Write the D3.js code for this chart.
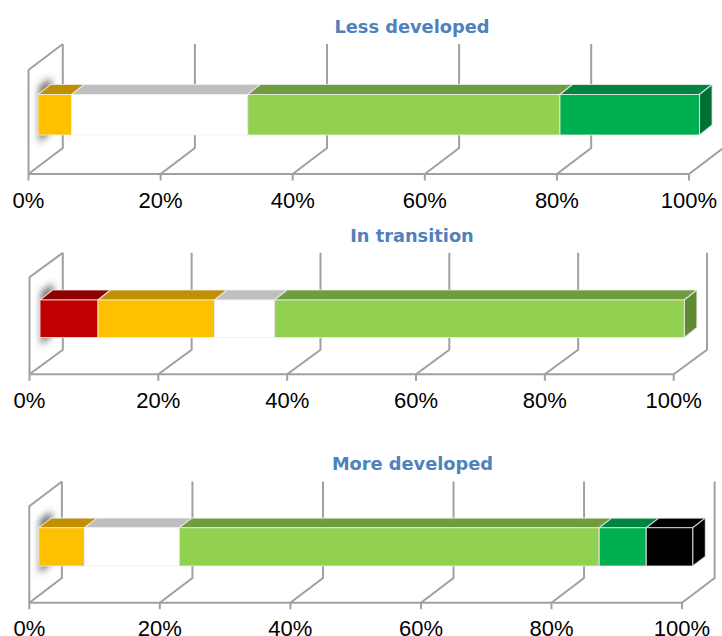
<!DOCTYPE html>
<html><head><meta charset="utf-8">
<script src="https://cdnjs.cloudflare.com/ajax/libs/d3/7.8.5/d3.min.js"></script>
<style>html,body{margin:0;padding:0;background:#fff;overflow:hidden}svg{display:block}</style>
</head><body>
<svg id="c" width="722" height="636"></svg>
<script>
const panelTitles = ["Less developed", "In transition", "More developed"];
const segmentKeys = ["red", "amber", "white", "lightGreen", "darkGreen", "black"];
const lessDeveloped = [0, 5.1, 26.6, 47.2, 21.1, 0];
const inTransition = [9.0, 18.1, 9.3, 63.6, 0, 0];
const moreDeveloped = [0, 7.0, 14.5, 64.2, 7.2, 7.1];
const panelValues = [lessDeveloped, inTransition, moreDeveloped];
const tickValues = [0, 20, 40, 60, 80, 100];

const palette = {
  red:        {front:"#C00000", top:"#900000", side:"#7a0000"},
  amber:      {front:"#FFC000", top:"#C09000", side:"#a87e00"},
  white:      {front:"#FFFFFF", top:"#BFBFBF", side:"#a8a8a8"},
  lightGreen: {front:"#92D050", top:"#6F9C3C", side:"#618A34"},
  darkGreen:  {front:"#00B050", top:"#008540", side:"#007033"},
  black:      {front:"#000000", top:"#000000", side:"#000000"}
};

const layouts = [
  {x0:28.5, x1:689, floor:174, dx:34.3, dy:26, wallH:104, barX0:38, barX1:699.5, barTop:94.5, barBot:135, bdx:12.6, bdy:10, titleX:412, titleY:33},
  {x0:29.5, x1:673.7, floor:374.3, dx:33.3, dy:24.5, wallH:97, barX0:40, barX1:684.3, barTop:300, barBot:337.5, bdx:12.6, bdy:10, titleX:412, titleY:242},
  {x0:29.3, x1:682, floor:602.7, dx:32.6, dy:24.7, wallH:96.5, barX0:38.7, barX1:692.7, barTop:527.7, barBot:566, bdx:12.6, bdy:9.6, titleX:412.5, titleY:470}
];

const svg = d3.select("#c");
const defs = svg.append("defs");
defs.append("filter").attr("id","blur").attr("x","-100%").attr("y","-50%").attr("width","300%").attr("height","200%")
  .append("feGaussianBlur").attr("stdDeviation",3.6);

const GRID = "#a0a0a0";
const GW = 2;
const pts = a => a.map(p => p.join(",")).join(" ");

layouts.forEach((L, i) => {
  const g = svg.append("g");
  const xAxisScale = d3.scaleLinear().domain([0,100]).range([L.x0, L.x1]);
  const barScale = d3.scaleLinear().domain([0,100]).range([L.barX0, L.barX1]);

  // left wall and back gridlines
  const wallTop = L.floor - L.dy - L.wallH;
  g.append("polyline").attr("fill","none").attr("stroke",GRID).attr("stroke-width",GW)
    .attr("points", pts([[L.x0,L.floor],[L.x0,wallTop+L.dy],[L.x0+L.dx,wallTop]]));
  g.selectAll("polyline.grid").data(tickValues).join("polyline").attr("class","grid")
    .attr("fill","none").attr("stroke",GRID).attr("stroke-width",GW)
    .attr("points", d => { const x = xAxisScale(d);
      return pts([[x,L.floor],[x+L.dx,L.floor-L.dy],[x+L.dx,wallTop]]); });

  // axis along the floor
  const axis = d3.axisBottom(xAxisScale).tickValues(tickValues).tickFormat(d => d+"%")
    .tickSize(6.5).tickPadding(11.5);
  const ag = g.append("g").attr("transform",`translate(0,${L.floor})`).call(axis);
  ag.select(".domain").attr("stroke",GRID).attr("stroke-width",GW).attr("d",`M${L.x0},0H${L.x1}`);
  ag.selectAll(".tick").attr("transform", d => `translate(${xAxisScale(d)},0)`);
  ag.selectAll(".tick line").attr("stroke",GRID).attr("stroke-width",GW);
  ag.selectAll(".tick text").attr("fill","#000").style("font-family","'Liberation Sans',Arial,sans-serif").style("font-size","22px");

  // soft shadow on the wall
  g.append("polygon").attr("fill","#606060").attr("opacity",0.9).attr("filter","url(#blur)")
    .attr("points", pts([[L.barX0+1,L.barTop-8],[L.barX0+13,L.barTop-17],[L.barX0+13,L.barBot-4],[L.barX0+1,L.barBot+8]]));

  // bar
  const row = {}; segmentKeys.forEach((k,j) => row[k] = panelValues[i][j]);
  const series = d3.stack().keys(segmentKeys)([row]).filter(s => s[0][1] > s[0][0]);
  const bar = g.append("g").attr("stroke-linejoin","round");
  const edge = "#ececec";
  bar.selectAll("polygon.top").data(series).join("polygon").attr("class","top")
    .attr("fill", s => palette[s.key].top).attr("stroke", edge).attr("stroke-width",1.1).attr("stroke-opacity",0.8)
    .attr("points", s => { const a = barScale(s[0][0]), b = barScale(s[0][1]);
      return pts([[a,L.barTop],[a+L.bdx,L.barTop-L.bdy],[b+L.bdx,L.barTop-L.bdy],[b,L.barTop]]); });
  const last = series[series.length-1];
  const xe = barScale(last[0][1]);
  bar.append("polygon").attr("fill", palette[last.key].side).attr("stroke",edge).attr("stroke-width",1.1).attr("stroke-opacity",0.8)
    .attr("points", pts([[xe,L.barTop],[xe+L.bdx,L.barTop-L.bdy],[xe+L.bdx,L.barBot-L.bdy],[xe,L.barBot]]));
  bar.selectAll("rect.front").data(series).join("rect").attr("class","front")
    .attr("x", s => barScale(s[0][0])).attr("width", s => barScale(s[0][1])-barScale(s[0][0]))
    .attr("y", L.barTop).attr("height", L.barBot-L.barTop)
    .attr("fill", s => palette[s.key].front).attr("stroke", edge).attr("stroke-width",1.1).attr("stroke-opacity",0.8);

  // title
  g.append("text").attr("x",L.titleX).attr("y",L.titleY).attr("text-anchor","middle")
    .attr("fill","#4F81BD").style("font-family","'DejaVu Sans',Verdana,sans-serif")
    .style("font-weight","bold").style("font-size","17.8px").text(panelTitles[i]);
});
</script>
</body></html>
